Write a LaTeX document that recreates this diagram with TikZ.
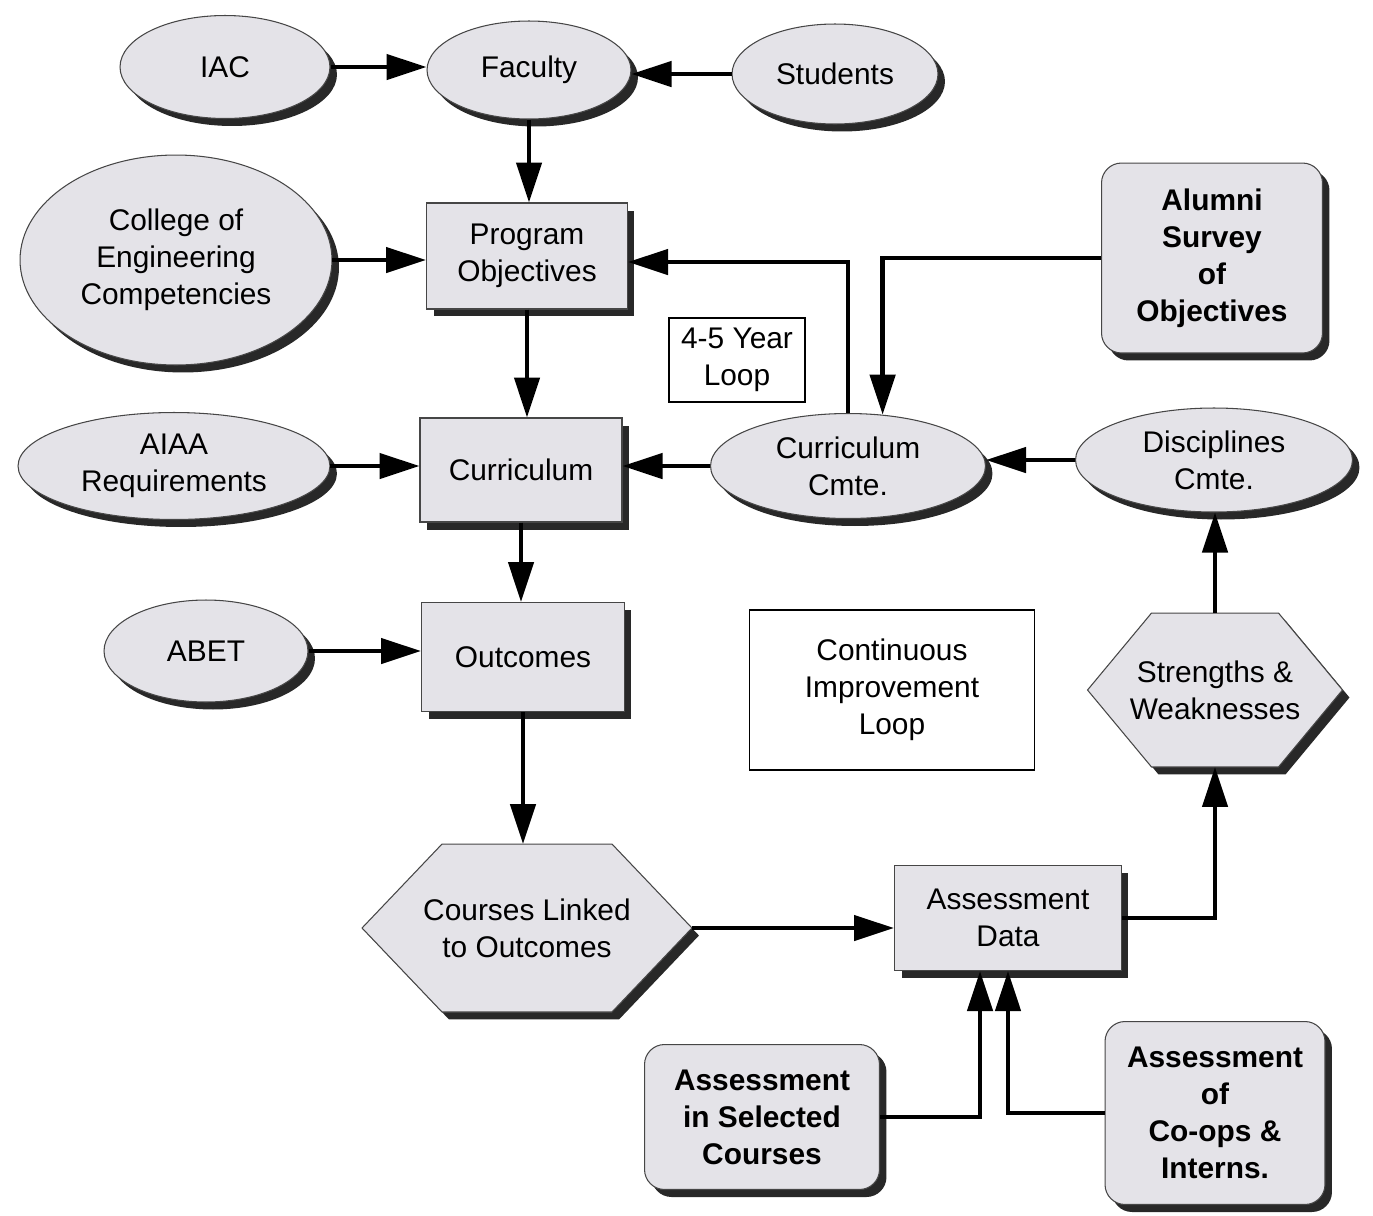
\documentclass[tikz,border=0pt]{standalone}
\usepackage{fontspec}
\setmainfont{Liberation Sans}
\usetikzlibrary{shapes.geometric,shadows,arrows.meta,backgrounds}
\definecolor{boxfill}{RGB}{228,227,232}
\definecolor{boxline}{RGB}{70,70,70}
\definecolor{boxshadow}{RGB}{40,40,40}

\begin{document}
\begin{tikzpicture}[x=0.02cm, y=-0.02cm,
    every node/.style={font=\fontsize{17}{21}\selectfont, align=center},
    castshadow/.style={drop shadow={shadow xshift=0.14cm, shadow yshift=-0.15cm,
                       fill=boxshadow, opacity=1}},
    ovalnode/.style={ellipse, draw=boxline, line width=0.6pt, fill=boxfill,
                     inner sep=0pt, castshadow},
    procbox/.style={rectangle, draw=boxline, line width=0.6pt, fill=boxfill,
                    inner sep=0pt, castshadow},
    roundbox/.style={procbox, rounded corners=0.4cm,
                     font=\fontsize{17}{21}\selectfont\bfseries},
    notebox/.style={rectangle, draw=black, line width=0.8pt, fill=white,
                    inner sep=0pt},
    hexlabel/.style={rectangle, inner sep=0pt, outer sep=0pt},
    hexface/.style={draw=boxline, line width=0.6pt, fill=boxfill, castshadow},
    flow/.style={draw=black, line width=2.6pt,
                 -{Triangle[length=0.8cm, width=0.5cm]}}
  ]
    \def\hexsw{1.28cm} \def\hexcou{1.6cm}
    \useasboundingbox (0,0) rectangle (1373,1215);

    % top row
    \node[ovalnode, minimum width=4.2cm, minimum height=2.06cm]
      (iac) at (225,67) {IAC};
    \node[ovalnode, minimum width=4.08cm, minimum height=1.96cm]
      (fac) at (529,70) {Faculty};
    \node[ovalnode, minimum width=4.12cm, minimum height=2.0cm]
      (stu) at (835,74) {Students};

    % objectives
    \node[ovalnode, minimum width=6.24cm, minimum height=4.2cm]
      (coe) at (176,260) {College of\\Engineering\\Competencies};
    \node[procbox, minimum width=4.02cm, minimum height=2.12cm]
      (pob) at (527,256) {Program\\Objectives};
    \node[notebox, minimum width=2.72cm, minimum height=1.68cm]
      (yrl) at (737,360) {4-5 Year\\Loop};
    \node[roundbox, minimum width=4.42cm, minimum height=3.8cm]
      (alu) at (1212,258) {Alumni\\Survey\\of\\Objectives};

    % curriculum
    \node[ovalnode, minimum width=6.24cm, minimum height=2.14cm]
      (aia) at (174,466) {AIAA\\Requirements};
    \node[procbox, minimum width=4.04cm, minimum height=2.08cm]
      (cur) at (521,470) {Curriculum};
    \node[ovalnode, minimum width=5.5cm, minimum height=2.1cm]
      (ccm) at (848,466) {Curriculum\\Cmte.};
    \node[ovalnode, minimum width=5.54cm, minimum height=2.08cm]
      (dcm) at (1214,460) {Disciplines\\Cmte.};

    % outcomes
    \node[ovalnode, minimum width=4.08cm, minimum height=2.04cm]
      (abt) at (206,651) {ABET};
    \node[procbox, minimum width=4.06cm, minimum height=2.18cm]
      (out) at (523,657) {Outcomes};
    \node[notebox, minimum width=5.7cm, minimum height=3.2cm]
      (cil) at (892,690) {Continuous\\Improvement\\Loop};
    \node[hexlabel, minimum width=5.1cm, minimum height=3.08cm]
      (sw) at (1215,690) {Strengths \&\\Weaknesses};

    % assessment
    \node[hexlabel, minimum width=6.6cm, minimum height=3.36cm]
      (cou) at (527,928) {Courses Linked\\to Outcomes};
    \node[procbox, minimum width=4.54cm, minimum height=2.1cm]
      (ad) at (1008,918) {Assessment\\Data};
    \node[roundbox, minimum width=4.7cm, minimum height=2.9cm]
      (asc) at (762,1117) {Assessment\\in Selected\\Courses};
    \node[roundbox, minimum width=4.4cm, minimum height=3.66cm]
      (aci) at (1215,1113) {Assessment\\of\\Co-ops \&\\Interns.};

    \begin{scope}[on background layer]
      \path[hexface] (sw.west) -- ([xshift=\hexsw]sw.north west)
        -- ([xshift=-\hexsw]sw.north east) -- (sw.east)
        -- ([xshift=-\hexsw]sw.south east) -- ([xshift=\hexsw]sw.south west)
        -- cycle;
      \path[hexface] (cou.west) -- ([xshift=\hexcou]cou.north west)
        -- ([xshift=-\hexcou]cou.north east) -- (cou.east)
        -- ([xshift=-\hexcou]cou.south east) -- ([xshift=\hexcou]cou.south west)
        -- cycle;
    \end{scope}

    \draw[flow] (iac.east) -- (iac.east -| fac.west);
    \draw[flow] (stu.west) -- (stu.west -| fac.east);
    \draw[flow] (fac.south) -- (fac.south |- pob.north);
    \draw[flow] (coe.east) -- (coe.east -| pob.west);
    \draw[flow] (ccm.north) |- ([yshift=-0.12cm]pob.east);
    \draw[flow] (alu.west) -| (ccm.56);
    \draw[flow] (pob.south) -- (pob.south |- cur.north);
    \draw[flow] (aia.east) -- (aia.east -| cur.west);
    \draw[flow] (ccm.west) -- (ccm.west -| cur.east);
    \draw[flow] (dcm.west) -- (dcm.west -| ccm.east);
    \draw[flow] (cur.south) -- (cur.south |- out.north);
    \draw[flow] (abt.east) -- (abt.east -| out.west);
    \draw[flow] (out.south) -- (out.south |- cou.north);
    \draw[flow] (cou.east) -- (cou.east -| ad.west);
    \draw[flow] (ad.east) -| (sw.south);
    \draw[flow] (sw.north) -- (sw.north |- dcm.south);
    \draw[flow] (asc.east) -| ([xshift=-0.56cm]ad.south);
    \draw[flow] (aci.west) -| (ad.south);
  \end{tikzpicture}
\end{document}
